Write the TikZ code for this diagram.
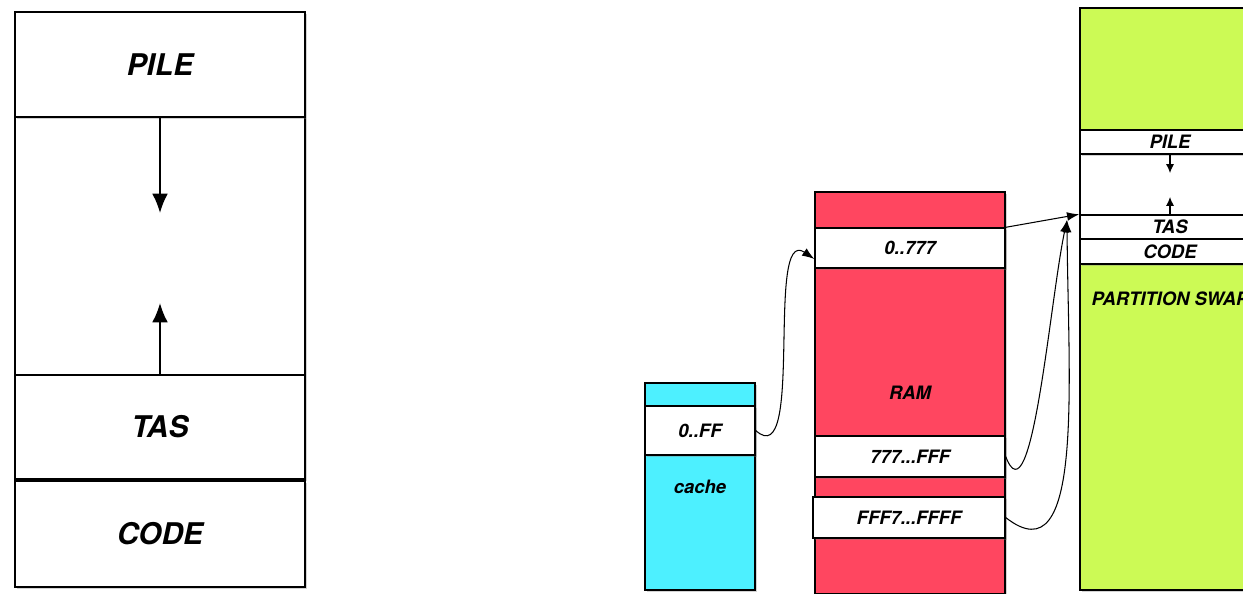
\documentclass[tikz,border=0pt]{standalone}
\usepackage{fontspec}
\setmainfont{TeX Gyre Heros}
\usetikzlibrary{arrows.meta,shadows}
\definecolor{ramred}{HTML}{FF4660}
\definecolor{cachecyan}{HTML}{4DF0FF}
\definecolor{swapgreen}{HTML}{CCFA55}

\begin{document}
\begin{tikzpicture}[x=0.02cm,y=-0.02cm,
        seg/.style={draw, rectangle, fill=white, inner sep=0pt, line width=0.8pt, font=\fontsize{10.5}{12}\selectfont\bfseries\itshape, drop shadow={opacity=0.35,shadow xshift=1.2pt,shadow yshift=-1.2pt}},
        bigseg/.style={seg, line width=1.5pt, minimum width=5.8cm, font=\fontsize{17}{20}\selectfont\bfseries\itshape},
        link/.style={-{Latex[length=7pt,width=5pt]}, line width=0.6pt}]
        \useasboundingbox (0,0) rectangle (1243,593);
        \clip (0,0) rectangle (1243,593);

        % process image
        \node (gap) [bigseg, minimum height=5.16cm] at (160,246) {};
        \node (pile) [bigseg, minimum height=2.1cm] at (160,64.5) {PILE};
        \node (tas) [bigseg, minimum height=2.08cm] at (160,427) {TAS};
        \node (code) [bigseg, minimum height=2.12cm] at (160,534) {CODE};
        \coordinate (piledown) at (160,213);
        \coordinate (tasup) at (160,303);
        \draw[-{Latex[length=11pt,width=9pt]}, line width=1.1pt] (pile.south) -- (piledown);
        \draw[-{Latex[length=11pt,width=9pt]}, line width=1.1pt] (tas.north) -- (tasup);

        % cache
        \node (cache) [seg, fill=cachecyan, minimum width=2.2cm, minimum height=4.14cm] at (700,486.5) {cache};
        \node (zeroff) [seg, minimum width=2.2cm, minimum height=0.98cm] at (700,430.5) {0..FF};

        % ram
        \node (ram) [seg, fill=ramred, minimum width=3.8cm, minimum height=8.04cm] at (910,393) {RAM};
        \node (ramlow) [seg, minimum width=3.8cm, minimum height=0.8cm] at (910,248) {0..777};
        \node (rammid) [seg, minimum width=3.8cm, minimum height=0.82cm] at (910,456.5) {777...FFF};
        \node (ramhigh) [seg, minimum width=3.84cm, minimum height=0.82cm] at (909,517.5) {FFF7...FFFF};

        % swap
        \node (swap) [seg, fill=swapgreen, minimum width=3.6cm, minimum height=11.64cm] at (1170,299) {PARTITION SWAP};
        \node (swapgap) [seg, minimum width=3.6cm, minimum height=1.22cm] at (1170,184.5) {};
        \node (swappile) [seg, minimum width=3.6cm, minimum height=0.48cm] at (1170,142) {PILE};
        \node (swaptas) [seg, minimum width=3.6cm, minimum height=0.48cm] at (1170,227) {TAS};
        \node (swapcode) [seg, minimum width=3.6cm, minimum height=0.5cm] at (1170,251.5) {CODE};
        \coordinate (swapdown) at (1170,173);
        \coordinate (swapup) at (1170,197);
        \draw[-{Latex[length=5pt,width=4.5pt]}, line width=0.6pt] (swappile.south) -- (swapdown);
        \draw[-{Latex[length=5pt,width=4.5pt]}, line width=0.6pt] (swaptas.north) -- (swapup);

        % links
        \coordinate (swapin) at (1067,220);
        \draw[link] (zeroff.east) .. controls (805,475) and (765,225) .. ([yshift=-0.22cm]ramlow.west);
        \draw[link] (ramlow.north east) -- (swaptas.north west);
        \draw[link] (rammid.east) .. controls (1032,525) and (1050,300) .. (swapin);
        \draw[link] (ramhigh.east) .. controls (1085,580) and (1068,380) .. (swapin);
    \end{tikzpicture}
\end{document}
